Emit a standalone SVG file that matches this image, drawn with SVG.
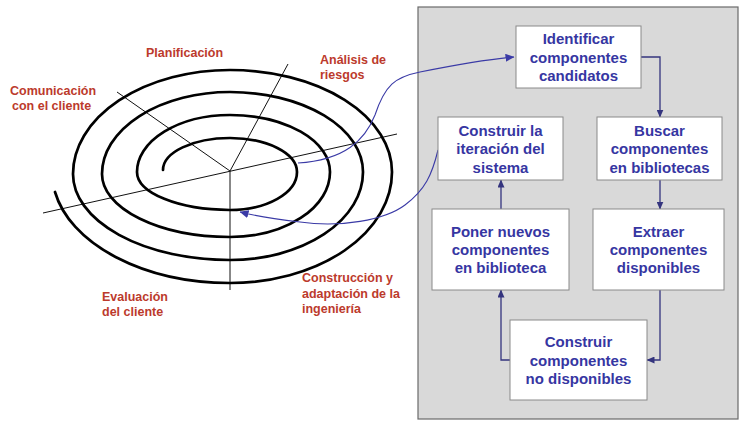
<svg xmlns="http://www.w3.org/2000/svg" width="749" height="426" viewBox="0 0 749 426">
<style>
.lbl{font-family:"Liberation Sans",Arial,sans-serif;font-weight:bold;font-size:12.5px;fill:#bc3a2c}
.bt{font-family:"Liberation Sans",Arial,sans-serif;font-weight:bold;font-size:15px;fill:#3636a2;text-anchor:middle}
.box{fill:#ffffff;stroke:#8a8a8a;stroke-width:1}
.con{fill:none;stroke:#34347e;stroke-width:1.3}
.cur{fill:none;stroke:#3a3aa6;stroke-width:1.1}
.ax{stroke:#111;stroke-width:1;fill:none}
.sp{fill:none;stroke:#000;stroke-width:2.7;stroke-linecap:round}
</style>
<defs>
<marker id="ah" markerWidth="8" markerHeight="7" refX="7.5" refY="3.5" orient="auto" markerUnits="userSpaceOnUse">
<path d="M0,0 L8,3.5 L0,7 z" fill="#34347e"/>
</marker>
<marker id="ah2" markerWidth="9" markerHeight="8" refX="8.5" refY="4" orient="auto" markerUnits="userSpaceOnUse">
<path d="M0,0 L9,4 L0,8 z" fill="#3a3aa6"/>
</marker>
</defs>
<rect width="749" height="426" fill="#ffffff"/>
<g id="spiral">
<path class="ax" d="M43,213 L397,134"/>
<path class="ax" d="M117,92 L230,171"/>
<path class="ax" d="M288,64 L230,171"/>
<path class="ax" d="M230,171 L230,290"/>
<path class="sp" d="M163,170 A67,32 0 0 1 230,138 A67,34 0 0 1 297,172 A67,38 0 0 1 230,210 A93,38 0 0 1 137,172 A93,57 0 0 1 230,115 A100,57 0 0 1 330,172 A100,65 0 0 1 230,237 A128,63 0 0 1 102,174 A128,82 0 0 1 230,92 A133,80 0 0 1 363,172 A133,88 0 0 1 230,260 A157,86 0 0 1 73,174 A157,104 0 0 1 230,70 A162,102 0 0 1 392,172 A162,111 0 0 1 230,283 A178,111 0 0 1 55,192"/>
</g>
<g id="labels">
<text class="lbl" x="146" y="57">Planificación</text>
<text class="lbl" x="320" y="64">Análisis de</text>
<text class="lbl" x="320" y="79">riesgos</text>
<text class="lbl" x="10" y="95">Comunicación</text>
<text class="lbl" x="12" y="110">con el cliente</text>
<text class="lbl" x="102" y="301">Evaluación</text>
<text class="lbl" x="102" y="316">del cliente</text>
<text class="lbl" x="302" y="282">Construcción y</text>
<text class="lbl" x="302" y="298">adaptación de la</text>
<text class="lbl" x="302" y="313">ingeniería</text>
</g>
<rect id="panel" x="418" y="7" width="320" height="412" fill="#d9d9d9" stroke="#6a6a6a" stroke-width="1.2"/>
<g id="connectors">
<path class="cur" d="M298,163 C345,160 365,140 375,115 C385,85 395,77 420,72 C450,66 480,60 514,57" marker-end="url(#ah2)"/>
<path class="cur" d="M438,150 C432,175 425,190 405,205 C385,220 340,228 300,222 C275,219 255,216 240,212" marker-end="url(#ah2)"/>
<path class="con" d="M641,57 H660 V117" marker-end="url(#ah)"/>
<path class="con" d="M660,180 V209" marker-end="url(#ah)"/>
<path class="con" d="M660,290 V360 H647" marker-end="url(#ah)"/>
<path class="con" d="M510,360 H501 V290" marker-end="url(#ah)"/>
<path class="con" d="M501,209 V180" marker-end="url(#ah)"/>
</g>
<g id="n1">
<rect class="box" x="516" y="26" width="125" height="62"/>
<text class="bt" x="578.5" y="44">Identificar</text>
<text class="bt" x="578.5" y="63">componentes</text>
<text class="bt" x="578.5" y="81">candidatos</text>
</g>
<g id="n2">
<rect class="box" x="597" y="117" width="125" height="63"/>
<text class="bt" x="659.5" y="136">Buscar</text>
<text class="bt" x="659.5" y="154">componentes</text>
<text class="bt" x="659.5" y="173">en bibliotecas</text>
</g>
<g id="n3">
<rect class="box" x="593" y="209" width="131" height="81"/>
<text class="bt" x="658.5" y="237">Extraer</text>
<text class="bt" x="658.5" y="255">componentes</text>
<text class="bt" x="658.5" y="273">disponibles</text>
</g>
<g id="n4">
<rect class="box" x="510" y="320" width="137" height="80"/>
<text class="bt" x="578.5" y="347">Construir</text>
<text class="bt" x="578.5" y="366">componentes</text>
<text class="bt" x="578.5" y="384">no disponibles</text>
</g>
<g id="n5">
<rect class="box" x="432" y="209" width="137" height="81"/>
<text class="bt" x="500.5" y="237">Poner nuevos</text>
<text class="bt" x="500.5" y="255">componentes</text>
<text class="bt" x="500.5" y="273">en biblioteca</text>
</g>
<g id="n6">
<rect class="box" x="438" y="117" width="125" height="63"/>
<text class="bt" x="500.5" y="136">Construir la</text>
<text class="bt" x="500.5" y="154">iteración del</text>
<text class="bt" x="500.5" y="173">sistema</text>
</g>
</svg>
